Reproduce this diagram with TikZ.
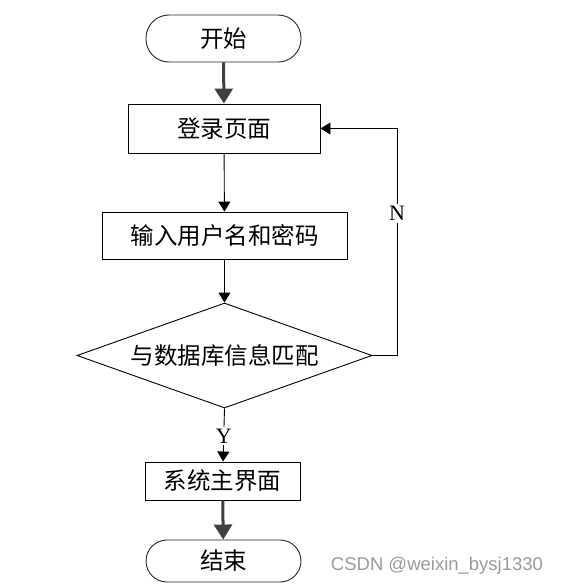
\documentclass[tikz,border=0pt]{standalone}
\usepackage{fontspec}
\setmainfont{Liberation Serif}
\newfontfamily\cjk{Noto Sans CJK SC}
\newfontfamily\wm{Liberation Sans}
\usetikzlibrary{shapes.geometric,arrows.meta}
\definecolor{arrgray}{HTML}{404040}
\definecolor{wmgray}{HTML}{9A9A9A}
\tikzset{
  cjkfont/.style={font=\cjk\fontsize{23.5}{26}\selectfont},
  pill/.style={draw=black!85, line width=0.9pt, rounded corners=23pt, minimum width=155pt, inner sep=0pt, cjkfont},
  boxnode/.style={draw=black, line width=0.9pt, inner sep=0pt, cjkfont},
  decnode/.style={draw=black, line width=0.9pt, shape=diamond, aspect=2.81, inner sep=0pt, minimum width=295pt, minimum height=105pt, cjkfont},
  thickarr/.style={draw=arrgray, line width=3pt, -{Triangle[length=15pt,width=18pt]}},
  thinarr/.style={draw=black, line width=0.9pt, -{Triangle[length=10pt,width=12pt]}},
  yn/.style={fill=white, inner sep=2pt, font=\fontsize{22}{24}\selectfont}
}
\begin{document}
\begin{tikzpicture}[x=1pt,y=-1pt]
\useasboundingbox (0,0) rectangle (561,586);
\node[pill, minimum height=47pt] (start) at (223.5,38.5) {开始};
\node[boxnode, minimum width=192pt, minimum height=49pt] (login) at (224,128.5) {登录页面};
\node[boxnode, minimum width=245pt, minimum height=47pt] (input) at (224.5,235.5) {输入用户名和密码};
\node[decnode] (dec) at (224.5,355.5) {与数据库信息匹配};
\node[boxnode, minimum width=155pt, minimum height=38pt] (sys) at (222.5,481) {系统主界面};
\node[pill, minimum height=42pt, rounded corners=21pt] (end) at (223.5,561) {结束};
\coordinate (c1) at (397,355.5);
\coordinate (c2) at (397,128.5);
\draw[thickarr] (start) -- (login);
\draw[thinarr] (login) -- (input);
\draw[thinarr] (input) -- (dec);
\draw[thinarr] (dec.east) -- (c1) -- node[yn, pos=0.626] {N} (c2) -- (login.east);
\draw[thinarr] (dec.south) -- node[yn, pos=0.52] {Y} (sys);
\draw[thickarr] (sys) -- (end);
\node[text=wmgray, font=\wm\fontsize{18.5}{20}\selectfont, inner sep=0pt] (wm) at (437,566) {CSDN @weixin\_bysj1330};
\end{tikzpicture}
\end{document}
